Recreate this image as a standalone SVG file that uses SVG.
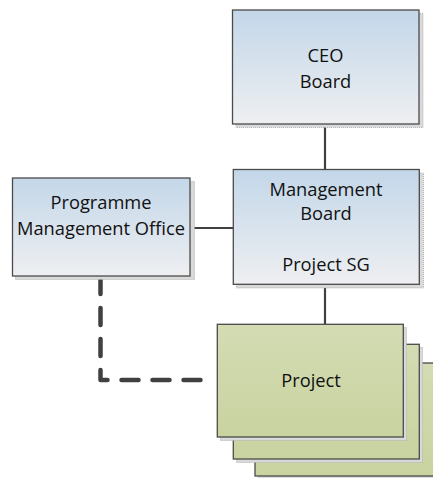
<svg xmlns="http://www.w3.org/2000/svg" width="433" height="478" viewBox="0 0 433 478">
<defs>
<linearGradient id="blue" x1="0" y1="0" x2="0" y2="1">
<stop offset="0" stop-color="#c3d7e9"/>
<stop offset="1" stop-color="#eeeff1"/>
</linearGradient>
<linearGradient id="green" x1="0" y1="0" x2="0" y2="1">
<stop offset="0" stop-color="#d3dcb3"/>
<stop offset="1" stop-color="#c9d3a0"/>
</linearGradient>
<style>
.box{stroke:#4a4a4a;stroke-width:1.3}
.b{fill:url(#blue)}
.g{fill:url(#green)}
.sh{fill:#d9d9d9;stroke:#a6a6a6;stroke-width:0.8;stroke-dasharray:1 1}
.t{font-family:"Open Sans","Liberation Sans",sans-serif;font-size:18.3px;fill:#111;text-anchor:middle}
.c{stroke:#404040;stroke-width:2.2;fill:none}
.d{stroke:#404040;stroke-width:4.5;fill:none;stroke-linecap:round;stroke-linejoin:round;stroke-dasharray:17 14}
</style>
</defs>
<g id="connectors">
<line class="c" x1="325" y1="124" x2="325" y2="170"/>
<line class="c" x1="190" y1="228" x2="233" y2="228"/>
<line class="c" x1="325" y1="284" x2="325" y2="324"/>
<path class="d" d="M100.5 277 L100.5 380 L206 380"/>
</g>
<g id="ceo">
<rect class="sh" x="236" y="13.5" width="187" height="114"/>
<rect class="box b" x="232.5" y="10" width="186.5" height="114"/>
<text class="t" x="325.5" y="61.5">CEO</text>
<text class="t" x="325.5" y="87.5">Board</text>
</g>
<g id="pmo">
<rect class="sh" x="15.5" y="181.5" width="179" height="98"/>
<rect class="box b" x="12.5" y="178" width="177.5" height="98"/>
<text class="t" x="101" y="208.5">Programme</text>
<text class="t" x="101" y="234.5">Management Office</text>
</g>
<g id="mgmt">
<rect class="sh" x="236.5" y="173" width="187" height="115"/>
<rect class="box b" x="233.3" y="169.5" width="186" height="114.8"/>
<text class="t" x="326" y="196">Management</text>
<text class="t" x="326" y="219.5">Board</text>
<text class="t" x="326" y="271">Project SG</text>
</g>
<g id="project">
<rect class="sh" x="258.5" y="366.5" width="186" height="113"/>
<rect class="box g" x="255" y="363" width="186" height="113"/>
<rect class="sh" x="236.5" y="347.5" width="186" height="115"/>
<rect class="box g" x="233.3" y="344.3" width="186" height="114.7"/>
<rect class="sh" x="220.5" y="327.5" width="186" height="113"/>
<rect class="box g" x="217.3" y="324.3" width="186" height="112.7"/>
<text class="t" x="311" y="387">Project</text>
</g>
</svg>
